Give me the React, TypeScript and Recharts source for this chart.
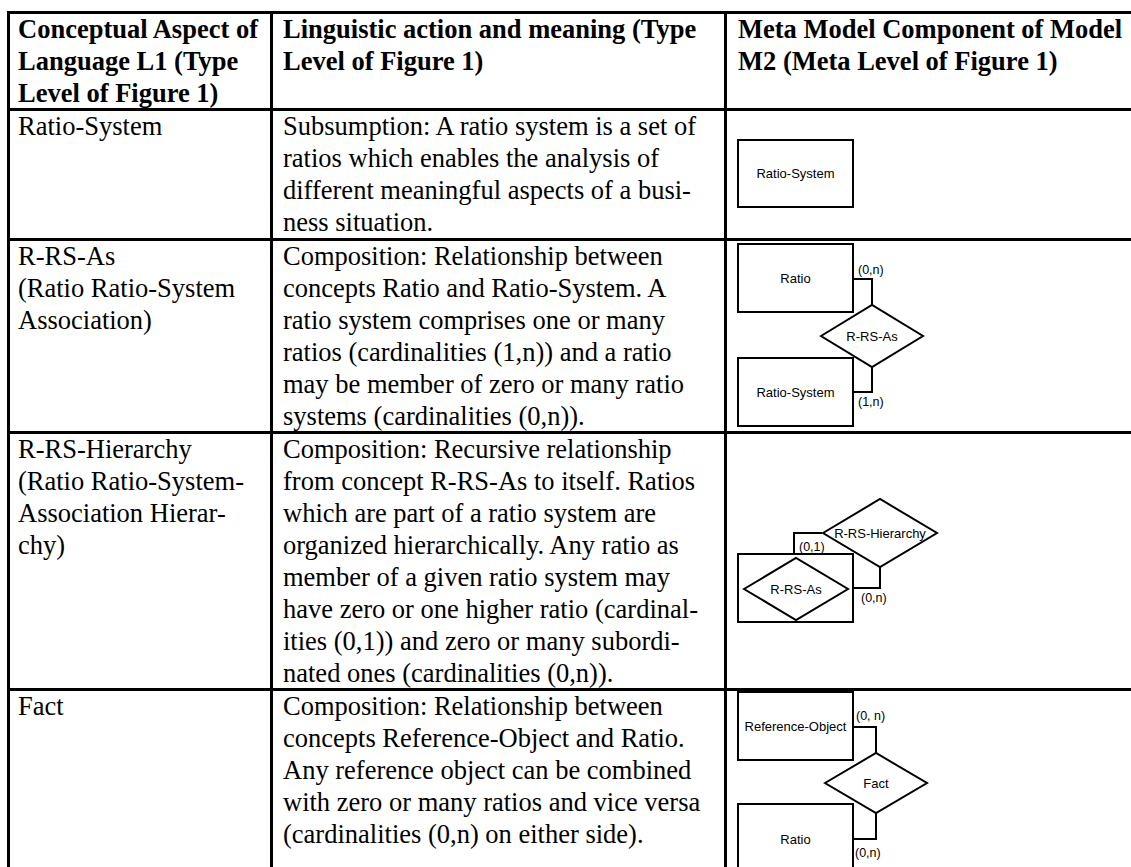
import { Surface, Layer, Rectangle, Polygon, Curve, Text } from "recharts";

// table text, one entry per printed line
const headerLines = [
  ["Conceptual Aspect of", "Language L1 (Type", "Level of Figure 1)"],
  ["Linguistic action and meaning (Type", "Level of Figure 1)"],
  ["Meta Model Component of Model", "M2 (Meta Level of Figure 1)"],
];

const aspectLines = [
  ["Ratio-System"],
  ["R-RS-As", "(Ratio Ratio-System", "Association)"],
  ["R-RS-Hierarchy", "(Ratio Ratio-System-", "Association Hierar-", "chy)"],
  ["Fact"],
];

const meaningLines = [
  [
    "Subsumption: A ratio system is a set of",
    "ratios which enables the analysis of",
    "different meaningful aspects of a busi-",
    "ness situation.",
  ],
  [
    "Composition: Relationship between",
    "concepts Ratio and Ratio-System. A",
    "ratio system comprises one or many",
    "ratios (cardinalities (1,n)) and a ratio",
    "may be member of zero or many ratio",
    "systems (cardinalities (0,n)).",
  ],
  [
    "Composition: Recursive relationship",
    "from concept R-RS-As to itself. Ratios",
    "which are part of a ratio system are",
    "organized hierarchically. Any ratio as",
    "member of a given ratio system may",
    "have zero or one higher ratio (cardinal-",
    "ities (0,1)) and zero or many subordi-",
    "nated ones (cardinalities (0,n)).",
  ],
  [
    "Composition: Relationship between",
    "concepts Reference-Object and Ratio.",
    "Any reference object can be combined",
    "with zero or many ratios and vice versa",
    "(cardinalities (0,n) on either side).",
  ],
];

// meta model diagrams
const entityNames = [["Ratio-System"], ["Ratio", "Ratio-System"], ["R-RS-As"], ["Reference-Object", "Ratio"]];
const relationNames = ["R-RS-As", "R-RS-Hierarchy", "Fact"];
const cardinalities = [
  ["(0,n)", "(1,n)"],
  ["(0,1)", "(0,n)"],
  ["(0, n)", "(0,n)"],
];

// layout
const W = 1131;
const H = 867;
const LINE = 3;
const rowLineTops = [11, 108, 238, 431, 688, 884];
const colLineLefts = [7, 270, 724];
const textX = [18, 283, 738];
const LINE_PITCH = 32;
const BASELINE_OFFSET = 24;

const serif = "'Liberation Serif', 'Times New Roman', serif";
const sans = "'Liberation Sans', Arial, sans-serif";
const ink = "#000";

type Pt = { x: number; y: number };

function Box({ x, y, w, h, label }: { x: number; y: number; w: number; h: number; label?: string }) {
  return (
    <Layer>
      <Rectangle x={x} y={y} width={w} height={h} fill="#fff" stroke={ink} strokeWidth={2} />
      {label ? (
        <Text x={x + w / 2} y={y + h / 2} textAnchor="middle" verticalAnchor="middle" fontFamily={sans} fontSize={13} fill={ink}>
          {label}
        </Text>
      ) : null}
    </Layer>
  );
}

function Diamond({ cx, cy, hw, hh, label }: { cx: number; cy: number; hw: number; hh: number; label: string }) {
  const pts: Pt[] = [
    { x: cx - hw, y: cy },
    { x: cx, y: cy - hh },
    { x: cx + hw, y: cy },
    { x: cx, y: cy + hh },
  ];
  return (
    <Layer>
      <Polygon points={pts} fill="#fff" stroke={ink} strokeWidth={2} />
      <Text x={cx} y={cy} textAnchor="middle" verticalAnchor="middle" fontFamily={sans} fontSize={13} fill={ink}>
        {label}
      </Text>
    </Layer>
  );
}

function Link({ pts }: { pts: Pt[] }) {
  return <Curve type="linear" points={pts} fill="none" stroke={ink} strokeWidth={2} />;
}

function Card({ x, y, label }: { x: number; y: number; label: string }) {
  return (
    <Text x={x} y={y} textAnchor="start" verticalAnchor="middle" fontFamily={sans} fontSize={12.5} fill={ink}>
      {label}
    </Text>
  );
}

function Lines({ x, top, lines, bold }: { x: number; top: number; lines: string[]; bold?: boolean }) {
  return (
    <Layer>
      {lines.map((s, i) => (
        <Text
          key={i}
          x={x}
          y={top + BASELINE_OFFSET + i * LINE_PITCH}
          fontFamily={serif}
          fontSize={26.5}
          fontWeight={bold ? "bold" : "normal"}
          fill={ink}
        >
          {s}
        </Text>
      ))}
    </Layer>
  );
}

export default function App() {
  const rowTop = (i: number) => rowLineTops[i] + LINE;
  return (
    <div style={{ position: "absolute", left: 0, top: 0, width: W, height: H, overflow: "hidden", background: "#fff" }}>
      <Surface width={W} height={H}>
        {/* grid */}
        {rowLineTops.map((y, i) => (
          <Rectangle key={"h" + i} x={colLineLefts[0]} y={y} width={W} height={LINE} fill={ink} />
        ))}
        {colLineLefts.map((x, i) => (
          <Rectangle key={"v" + i} x={x} y={rowLineTops[0]} width={LINE} height={H} fill={ink} />
        ))}

        {/* header */}
        {headerLines.map((lines, c) => (
          <Lines key={"hd" + c} x={textX[c]} top={rowTop(0)} lines={lines} bold />
        ))}

        {/* body text */}
        {aspectLines.map((lines, r) => (
          <Lines key={"a" + r} x={textX[0]} top={rowTop(r + 1)} lines={lines} />
        ))}
        {meaningLines.map((lines, r) => (
          <Lines key={"m" + r} x={textX[1]} top={rowTop(r + 1)} lines={lines} />
        ))}

        {/* row 1 */}
        <Box x={738} y={140} w={115} h={67} label={entityNames[0][0]} />

        {/* row 2 */}
        <Box x={738} y={244} w={115} h={68} label={entityNames[1][0]} />
        <Link pts={[{ x: 853, y: 279 }, { x: 872, y: 279 }, { x: 872, y: 305 }]} />
        <Diamond cx={872} cy={336} hw={51} hh={31} label={relationNames[0]} />
        <Box x={738} y={358} w={115} h={68} label={entityNames[1][1]} />
        <Link pts={[{ x: 872, y: 367 }, { x: 872, y: 392 }, { x: 853, y: 392 }]} />
        <Card x={858} y={270} label={cardinalities[0][0]} />
        <Card x={858} y={402} label={cardinalities[0][1]} />

        {/* row 3 */}
        <Link pts={[{ x: 822, y: 533 }, { x: 794, y: 533 }, { x: 794, y: 554 }]} />
        <Link pts={[{ x: 880, y: 566 }, { x: 880, y: 588 }, { x: 853, y: 588 }]} />
        <Box x={738} y={554} w={115} h={68} />
        <Diamond cx={796} cy={589} hw={52} hh={31} label={entityNames[2][0]} />
        <Diamond cx={880} cy={533} hw={57} hh={34} label={relationNames[1]} />
        <Card x={799} y={547} label={cardinalities[1][0]} />
        <Card x={861} y={598} label={cardinalities[1][1]} />

        {/* row 4 */}
        <Box x={738} y={692} w={115} h={68} label={entityNames[3][0]} />
        <Link pts={[{ x: 853, y: 727 }, { x: 876, y: 727 }, { x: 876, y: 753 }]} />
        <Box x={738} y={804} w={115} h={70} label={entityNames[3][1]} />
        <Link pts={[{ x: 876, y: 812 }, { x: 876, y: 839 }, { x: 853, y: 839 }]} />
        <Diamond cx={876} cy={783} hw={51} hh={30} label={relationNames[2]} />
        <Card x={856} y={716} label={cardinalities[2][0]} />
        <Card x={855} y={853} label={cardinalities[2][1]} />
      </Surface>
    </div>
  );
}
